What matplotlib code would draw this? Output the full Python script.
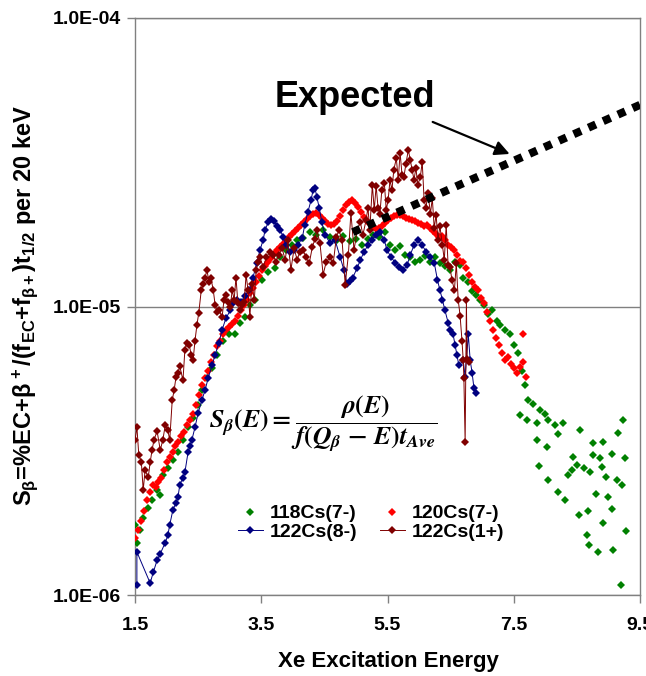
import matplotlib
matplotlib.use("Agg")
import matplotlib.pyplot as plt
import numpy as np

plt.rcParams['font.family'] = ['Liberation Sans', 'DejaVu Sans']
plt.rcParams['font.weight'] = 'bold'
plt.rcParams['mathtext.fontset'] = 'custom'
plt.rcParams['mathtext.rm'] = 'Liberation Sans:bold'
plt.rcParams['mathtext.it'] = 'Liberation Sans:bold'
plt.rcParams['mathtext.bf'] = 'Liberation Sans:bold'
plt.rcParams['mathtext.sf'] = 'Liberation Sans:bold'

S_UNIT = 1e-6  # strengths below are given in units of 1e-6

# 118Cs(7-)
e118 = [1.50, 1.53, 1.58, 1.63, 1.71, 1.77, 1.85, 1.90, 1.94, 2.02, 2.10, 2.18, 2.26, 2.34,
        2.42, 2.50, 2.56, 2.64, 2.72, 2.80, 2.89, 2.99, 3.08, 3.16, 3.24, 3.32, 3.40, 3.51,
        3.61, 3.72, 3.80, 3.89, 3.99, 4.07, 4.16, 4.27, 4.37, 4.48, 4.59, 4.70, 4.80, 4.91,
        5.00, 5.10, 5.19, 5.27, 5.37, 5.46, 5.54, 5.62, 5.70, 5.78, 5.86, 5.94, 6.02, 6.10,
        6.18, 6.25, 6.33, 6.41, 6.49, 6.57, 6.65, 6.70, 6.78, 6.84, 6.90, 6.97, 7.03, 7.09,
        7.16, 7.24, 7.28, 7.36, 7.44, 7.51, 7.57, 7.63, 7.68, 7.60, 7.73, 7.71, 7.81, 7.87,
        7.87, 7.92, 8.00, 8.05, 8.05, 7.90, 8.03, 8.16, 8.20, 8.20, 8.28, 8.31, 8.36, 8.43,
        8.44, 8.50, 8.54, 8.55, 8.62, 8.66, 8.68, 8.69, 8.71, 8.76, 8.76, 8.81, 8.84, 8.87,
        8.90, 8.92, 8.92, 8.96, 9.00, 9.06, 9.06, 9.08, 9.14, 9.15, 9.20, 9.22, 9.23, 9.27,
        9.28]
s118 = [1.75, 1.52, 1.68, 1.85, 2.01, 2.13, 2.31, 2.22, 2.61, 2.76, 2.93, 3.14, 3.44, 3.81,
        4.10, 4.55, 5.13, 5.65, 6.10, 6.80, 7.60, 8.00, 8.00, 8.80, 9.20, 10.1, 10.55, 12.4,
        13.2, 13.6, 14.9, 15.7, 16.3, 17.0, 17.3, 18.1, 17.7, 18.4, 17.4, 17.0, 17.6, 16.8,
        17.2, 16.4, 17.2, 17.7, 17.4, 18.1, 16.3, 15.7, 16.2, 15.1, 14.8, 14.3, 14.5, 15.0,
        14.3, 14.8, 14.1, 13.8, 13.4, 14.3, 13.9, 12.6, 12.2, 11.3, 11.0, 10.55, 10.1, 9.4,
        9.7, 8.9, 8.6, 8.3, 8.0, 7.35, 6.9, 6.0, 5.35, 4.2, 4.74, 4.04, 4.6, 3.44,
        3.95, 4.37, 4.25, 4.04, 2.50, 2.79, 3.25, 3.88, 3.62, 2.27, 3.95, 2.13, 2.61, 2.71,
        3.00, 2.82, 1.89, 3.73, 2.76, 1.61, 1.95, 1.49, 2.66, 3.36, 3.06, 2.24, 1.41, 2.99,
        2.78, 3.38, 1.77, 2.57, 2.18, 3.09, 1.98, 1.43, 2.50, 3.64, 1.08, 2.41, 4.04, 2.99,
        1.66]

# 120Cs(7-)
e120 = [1.50, 1.55, 1.60, 1.64, 1.69, 1.74, 1.79, 1.83, 1.86, 1.91, 1.96, 2.01, 2.05, 2.10,
        2.13, 2.18, 2.23, 2.28, 2.32, 2.37, 2.42, 2.47, 2.51, 2.56, 2.61, 2.66, 2.70, 2.75,
        2.80, 2.85, 2.89, 2.94, 2.99, 3.04, 3.08, 3.13, 3.18, 3.23, 3.27, 3.32, 3.37, 3.42,
        3.47, 3.51, 3.56, 3.61, 3.66, 3.70, 3.75, 3.80, 3.85, 3.89, 3.94, 3.99, 4.04, 4.08,
        4.13, 4.18, 4.23, 4.27, 4.32, 4.37, 4.42, 4.46, 4.51, 4.56, 4.61, 4.65, 4.70, 4.75,
        4.80, 4.84, 4.89, 4.94, 4.99, 5.03, 5.08, 5.13, 5.18, 5.22, 5.27, 5.32, 5.37, 5.41,
        5.46, 5.51, 5.56, 5.60, 5.65, 5.70, 5.75, 5.79, 5.84, 5.89, 5.94, 5.98, 6.03, 6.08,
        6.13, 6.17, 6.22, 6.27, 6.32, 6.37, 6.41, 6.46, 6.51, 6.56, 6.60, 6.65, 6.70, 6.75,
        6.79, 6.84, 6.89, 6.94, 6.98, 7.03, 7.08, 7.13, 7.17, 7.22, 7.27, 7.32, 7.36, 7.41,
        7.46, 7.51, 7.55, 7.60, 7.65, 7.65, 7.70]
s120 = [1.57, 1.68, 1.80, 1.95, 2.13, 2.27, 2.41, 2.36, 2.47, 2.55, 2.71, 2.88, 3.00, 3.14,
        3.29, 3.40, 3.55, 3.67, 3.88, 4.04, 4.23, 4.56, 4.93, 5.35, 5.65, 6.0, 6.4, 6.8,
        7.3, 7.6, 8.0, 8.3, 8.5, 8.7, 8.9, 9.3, 9.7, 10.1, 10.5, 11.1, 11.6, 12.2,
        12.8, 13.4, 13.8, 14.3, 14.7, 15.2, 15.7, 16.1, 16.5, 17.0, 17.4, 17.8, 18.3, 18.7,
        19.2, 19.6, 20.1, 20.6, 20.9, 21.1, 20.7, 20.3, 19.8, 19.3, 19.2, 19.3, 19.8, 20.6,
        21.6, 22.4, 23.1, 23.4, 22.8, 22.1, 21.3, 20.5, 19.8, 19.3, 18.9, 18.5, 18.7, 19.0,
        19.5, 19.9, 20.3, 20.6, 20.7, 20.7, 20.6, 20.3, 20.1, 19.9, 19.8, 19.5, 19.3, 19.0,
        19.2, 18.7, 18.3, 17.8, 17.4, 17.5, 17.0, 16.4, 16.1, 15.7, 15.1, 14.4, 14.3, 13.6,
        12.9, 12.2, 11.7, 11.4, 10.7, 10.3, 9.6, 8.9, 8.3, 7.8, 7.35, 6.9, 6.5, 6.7,
        6.3, 6.1, 5.9, 6.15, 6.4, 8.0, 5.7]

# 122Cs(8-)
e122a = [1.53, 1.53, 1.74, 1.79, 1.85, 1.90, 1.98, 2.02, 2.05, 2.10, 2.15, 2.18, 2.21, 2.26,
         2.29, 2.34, 2.37, 2.40, 2.45, 2.50, 2.56, 2.61, 2.66, 2.72, 2.77, 2.83, 2.88, 2.94,
         3.01, 3.05, 3.12, 3.18, 3.24, 3.31, 3.37, 3.43, 3.48, 3.53, 3.56, 3.61, 3.66, 3.70,
         3.75, 3.80, 3.85, 3.89, 3.96, 4.02, 4.08, 4.15, 4.19, 4.24, 4.29, 4.32, 4.35, 4.38,
         4.42, 4.46, 4.51, 4.59, 4.67, 4.75, 4.81, 4.86, 4.91, 4.95, 5.02, 5.07, 5.13, 5.19,
         5.26, 5.32, 5.38, 5.45, 5.49, 5.56, 5.62, 5.68, 5.75, 5.81, 5.86, 5.92, 5.98, 6.05,
         6.11, 6.18, 6.24, 6.29, 6.33, 6.37, 6.41, 6.46, 6.49, 6.54, 6.57, 6.60, 6.63, 6.70,
         6.73, 6.78, 6.81, 6.84, 6.87, 6.90]
s122a = [1.08, 1.41, 1.10, 1.20, 1.32, 1.39, 1.52, 1.61, 1.75, 1.97, 2.09, 2.18, 2.41, 2.55,
         2.66, 3.12, 3.28, 3.44, 3.81, 4.27, 4.74, 5.13, 5.65, 6.25, 6.8, 7.5, 8.3, 9.1,
         9.7, 10.25, 10.55, 10.4, 10.9, 11.4, 12.6, 14.2, 15.7, 17.0, 18.4, 19.6, 20.1, 19.8,
         19.0, 18.4, 17.4, 16.3, 15.5, 15.7, 16.3, 17.3, 19.2, 21.3, 23.4, 25.3, 25.8, 24.0,
         21.9, 19.6, 17.7, 16.6, 17.0, 14.8, 13.4, 12.0, 12.3, 12.6, 13.6, 14.5, 15.5, 16.3,
         17.0, 17.7, 18.1, 17.0, 15.7, 14.8, 14.2, 13.7, 13.4, 13.9, 15.1, 16.3, 17.0, 16.3,
         15.5, 14.8, 14.2, 12.4, 11.4, 10.55, 9.7, 8.8, 8.3, 8.0, 7.35, 6.8, 6.25, 6.5,
         5.7, 8.0, 6.5, 5.9, 5.2, 5.0]

# 122Cs(1+)
e122b = [1.50, 1.53, 1.56, 1.60, 1.63, 1.66, 1.71, 1.74, 1.77, 1.80, 1.85, 1.90, 1.94, 1.98,
         2.02, 2.05, 2.09, 2.12, 2.15, 2.18, 2.21, 2.26, 2.29, 2.32, 2.36, 2.39, 2.42, 2.45,
         2.48, 2.51, 2.55, 2.58, 2.61, 2.64, 2.67, 2.70, 2.74, 2.77, 2.80, 2.83, 2.88, 2.91,
         2.94, 2.97, 3.01, 3.04, 3.07, 3.10, 3.13, 3.16, 3.20, 3.23, 3.26, 3.29, 3.32, 3.35,
         3.39, 3.42, 3.45, 3.48, 3.53, 3.58, 3.64, 3.69, 3.73, 3.78, 3.83, 3.88, 3.92, 3.97,
         4.02, 4.07, 4.11, 4.16, 4.21, 4.26, 4.31, 4.35, 4.38, 4.43, 4.48, 4.53, 4.59, 4.64,
         4.69, 4.73, 4.78, 4.83, 4.88, 4.92, 4.97, 5.02, 5.07, 5.11, 5.16, 5.19, 5.22, 5.26,
         5.29, 5.32, 5.35, 5.38, 5.41, 5.45, 5.48, 5.51, 5.54, 5.57, 5.60, 5.64, 5.67, 5.70,
         5.73, 5.76, 5.79, 5.83, 5.86, 5.89, 5.92, 5.95, 5.98, 6.02, 6.05, 6.08, 6.11, 6.14,
         6.18, 6.21, 6.24, 6.27, 6.30, 6.33, 6.37, 6.40, 6.43, 6.46, 6.49, 6.52, 6.56, 6.59,
         6.62, 6.65, 6.68, 6.70, 6.71, 6.73, 6.75, 6.76, 6.79]
s122b = [3.44, 3.82, 3.06, 2.90, 2.31, 2.71, 2.56, 2.88, 3.18, 3.44, 3.70, 3.18, 3.44, 3.88,
         3.73, 3.44, 4.74, 5.13, 5.7, 5.9, 6.2, 5.55, 7.06, 7.5, 7.35, 6.8, 6.5, 7.6,
         8.6, 9.5, 11.4, 12.0, 12.6, 13.4, 12.2, 12.6, 11.4, 10.1, 9.6, 9.7, 9.2, 10.55,
         11.0, 10.4, 10.0, 11.4, 10.55, 12.6, 10.25, 9.7, 10.1, 10.4, 12.9, 11.4, 9.2, 12.0,
         10.55, 13.4, 14.3, 14.8, 13.7, 14.8, 15.5, 15.1, 14.3, 15.1, 15.9, 14.5, 17.0, 13.4,
         15.9, 14.5, 15.5, 15.7, 14.8, 14.1, 16.1, 17.1, 18.4, 16.6, 12.9, 14.3, 14.8, 14.1,
         17.4, 18.4, 17.0, 11.9, 15.1, 21.1, 15.7, 18.4, 19.6, 17.7, 19.9, 22.0, 18.4, 26.4,
         21.6, 26.2, 22.0, 21.0, 25.3, 26.8, 21.6, 23.4, 27.5, 25.3, 29.8, 32.6, 27.5, 34.1,
         28.6, 28.1, 31.1, 34.9, 32.2, 29.8, 27.5, 30.2, 26.4, 28.1, 31.7, 23.4, 22.0, 24.8,
         21.0, 23.7, 18.7, 20.8, 17.0, 19.0, 16.3, 14.5, 19.2, 13.9, 13.7, 12.4, 11.4, 14.1,
         10.55, 9.3, 7.6, 6.5, 5.65, 3.39, 10.55, 6.6, 6.4]

# expected trend
e_expected = [4.95, 9.50]
s_expected = [1.81e-5, 5.0e-5]

x_ticks = [1.5, 3.5, 5.5, 7.5, 9.5]
y_ticks = [1e-6, 1e-5, 1e-4]
y_ticklabels = ['1.0E-06', '1.0E-05', '1.0E-04']

fig = plt.figure(figsize=(6.46, 6.76), dpi=100)
ax = fig.add_axes([135 / 646, 1 - 595 / 676, 505 / 646, 577 / 676])

ms = 3.8
ax.plot(e118, np.array(s118) * S_UNIT, linestyle='none', marker='D', ms=ms, mew=0,
        color='#008000', label='118Cs(7-)', zorder=3)
ax.plot(e120, np.array(s120) * S_UNIT, linestyle='none', marker='D', ms=ms, mew=0,
        color='#FF0000', label='120Cs(7-)', zorder=4)
ax.plot(e122a, np.array(s122a) * S_UNIT, linestyle='-', lw=0.7, marker='D', ms=ms, mew=0,
        color='#000080', label='122Cs(8-)', zorder=5)
ax.plot(e122b, np.array(s122b) * S_UNIT, linestyle='-', lw=0.7, marker='D', ms=ms, mew=0,
        color='#800000', label='122Cs(1+)', zorder=6)

ax.plot(e_expected, s_expected, color='black', lw=5.8, linestyle=(0, (1, 1)),
        dash_capstyle='butt', zorder=7)

ax.set_yscale('log')
ax.set_xlim(1.5, 9.5)
ax.set_ylim(1e-6, 1e-4)
ax.set_xticks(x_ticks)
ax.set_xticklabels([f'{v:.1f}' for v in x_ticks])
ax.set_yticks(y_ticks)
ax.set_yticklabels(y_ticklabels)
ax.yaxis.set_minor_locator(matplotlib.ticker.NullLocator())
ax.tick_params(axis='both', which='major', labelsize=14, length=6, width=1,
               color='#808080', direction='out')
ax.tick_params(axis='x', pad=10)
ax.tick_params(axis='y', pad=4)
ax.grid(axis='y', which='major', color='#808080', lw=1)
for sp in ax.spines.values():
    sp.set_color('#808080')
    sp.set_linewidth(1)

fig.text(388 / 646, 1 - 662 / 676, 'Xe Excitation Energy', ha='center', va='center',
         fontsize=16, fontweight='bold')
fig.text(25 / 646, 1 - 305 / 676,
         r'S$_\beta$=%EC+$\beta^+$/(f$_{EC}$+f$_{\beta+}$)t$_{1/2}$ per 20 keV',
         rotation=90, ha='center', va='center', fontsize=17, fontweight='bold',
         math_fontfamily='custom')

ax.text(0.374, 0.295,
        r'$S_{\beta}(E) = \dfrac{\rho(E)}{f(Q_{\beta}\ \mathrm{-}\ E)t_{Ave}}$',
        transform=ax.transAxes, ha='center', va='center', fontsize=18.5,
        math_fontfamily='stix')

ax.text(0.4356, 0.863, 'Expected', transform=ax.transAxes, ha='center', va='center',
        fontsize=26, fontweight='bold')
ax.annotate('', xy=(7.475, 3.35e-5), xytext=(6.175, 4.40e-5),
            arrowprops=dict(arrowstyle='-|>', lw=1.6, color='black', mutation_scale=22),
            zorder=8)

handles, labels = ax.get_legend_handles_labels()
order = [0, 2, 1, 3]
ax.legend([handles[i] for i in order], [labels[i] for i in order], ncol=2,
          loc='center', bbox_to_anchor=(0.467, 0.125), frameon=False, fontsize=14,
          handlelength=1.3, handletextpad=0.35, columnspacing=1.15, labelspacing=0.05,
          borderpad=0.2)

fig.savefig('out.png', dpi=100)
